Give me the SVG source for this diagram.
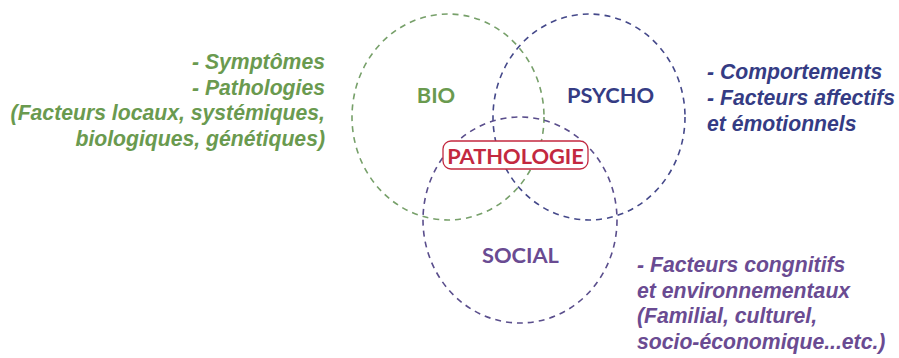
<svg xmlns="http://www.w3.org/2000/svg" width="899" height="358" viewBox="0 0 899 358">
<style>
.circ{fill:none;stroke-width:1.6;stroke-dasharray:6 5}
.lbl{font-family:Lato,"Liberation Sans",sans-serif;font-weight:bold;font-size:21.8px}
.desc{font-family:"Liberation Sans",Arial,sans-serif;font-weight:bold;font-style:italic;font-size:21.2px}
.g{fill:#6a9a4f}.b{fill:#353c84}.p{fill:#6a4b92}
</style>
<rect width="899" height="358" fill="#ffffff"/>
<g id="bio">
<ellipse class="circ" cx="448" cy="117" rx="96" ry="103" stroke="#77a06a"/>
<text class="lbl g" x="436" y="103" text-anchor="middle">BIO</text>
</g>
<g id="psycho">
<ellipse class="circ" cx="589" cy="117" rx="96" ry="103" stroke="#45498a"/>
<text class="lbl b" x="610.5" y="103" text-anchor="middle">PSYCHO</text>
</g>
<g id="social">
<ellipse class="circ" cx="520" cy="220" rx="97" ry="103" stroke="#5a4e8c"/>
<text class="lbl p" x="520.5" y="263" text-anchor="middle">SOCIAL</text>
</g>
<g id="pathologie">
<rect x="443" y="141" width="145" height="28" rx="8" fill="#ffffff" stroke="#c3283f" stroke-width="1.3"/>
<text class="lbl" x="515.5" y="163.5" text-anchor="middle" fill="#c3283f" font-size="23.5">PATHOLOGIE</text>
</g>
<g id="bio-desc" class="desc g" text-anchor="end">
<text x="325" y="69">- Symptômes</text>
<text x="325" y="95">- Pathologies</text>
<text x="325" y="120">(Facteurs locaux, systémiques,</text>
<text x="325" y="146">biologiques, génétiques)</text>
</g>
<g id="psycho-desc" class="desc b">
<text x="707" y="79">- Comportements</text>
<text x="707" y="105">- Facteurs affectifs</text>
<text x="707" y="131">et émotionnels</text>
</g>
<g id="social-desc" class="desc p">
<text x="637" y="272">- Facteurs congnitifs</text>
<text x="637" y="298">et environnementaux</text>
<text x="637" y="323">(Familial, culturel,</text>
<text x="637" y="349">socio-économique...etc.)</text>
</g>
</svg>
